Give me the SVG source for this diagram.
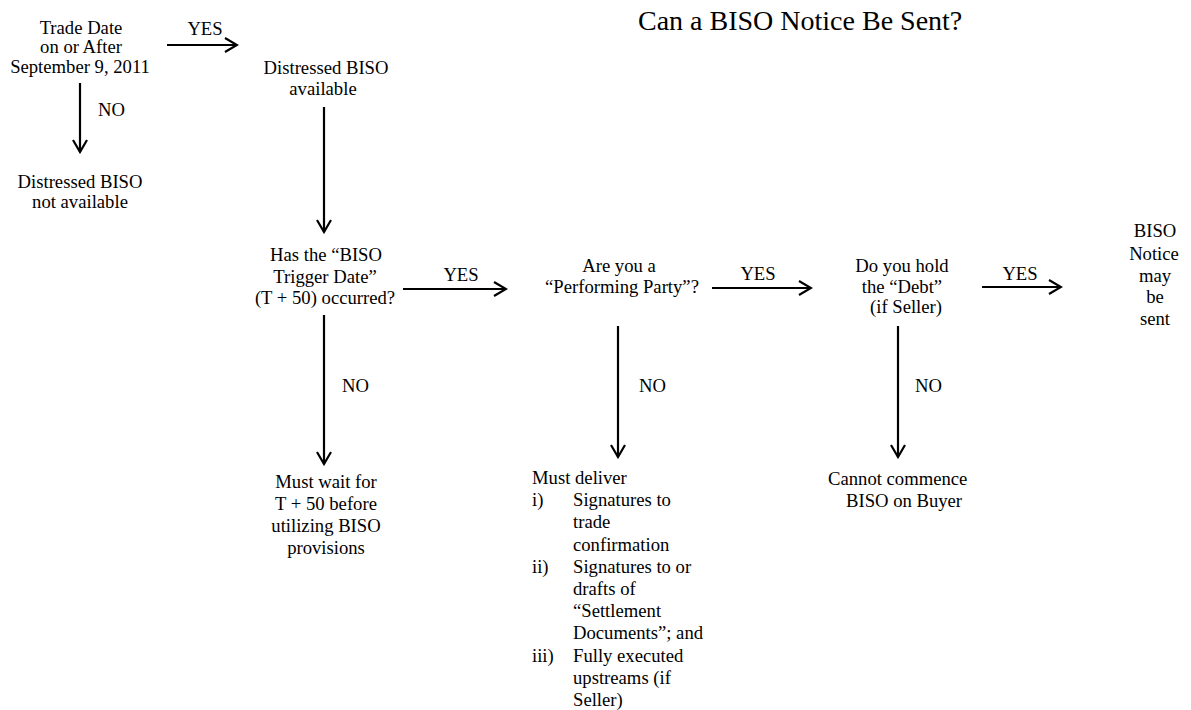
<svg xmlns="http://www.w3.org/2000/svg" width="1191" height="710" viewBox="0 0 1191 710">
<style>
text{font-family:"Liberation Serif","Times New Roman",serif;font-size:18.67px;fill:#000}
.c{text-anchor:middle}
.title{font-size:28px}
.ln{stroke:#000;stroke-width:2.2;fill:none}
</style>
<defs>
<marker id="arr" viewBox="-15 -9 17 18" markerWidth="17" markerHeight="18" refX="0" refY="0" orient="auto" markerUnits="userSpaceOnUse">
<path d="M-12,-7 L0,0 L-12,7" fill="none" stroke="#000" stroke-width="2.2"/>
</marker>
</defs>
<rect width="1191" height="710" fill="#fff"/>
<text class="title" x="638" y="30">Can a BISO Notice Be Sent?</text>
<g id="trade-date">
<text class="c" x="81" y="34">Trade Date</text>
<text class="c" x="81" y="53">on or After</text>
<text class="c" x="80" y="73">September 9, 2011</text>
</g>
<g id="not-available">
<text class="c" x="80" y="188">Distressed BISO</text>
<text class="c" x="80" y="208">not available</text>
</g>
<g id="available">
<text class="c" x="326" y="74">Distressed BISO</text>
<text class="c" x="323" y="95">available</text>
</g>
<g id="trigger">
<text class="c" x="326" y="261">Has the “BISO</text>
<text class="c" x="325" y="282.5">Trigger Date”</text>
<text class="c" x="325" y="304">(T + 50) occurred?</text>
</g>
<g id="wait">
<text class="c" x="326" y="488">Must wait for</text>
<text class="c" x="326" y="510">T + 50 before</text>
<text class="c" x="326" y="532">utilizing BISO</text>
<text class="c" x="326" y="554">provisions</text>
</g>
<g id="performing">
<text class="c" x="619" y="272">Are you a</text>
<text class="c" x="622" y="293">“Performing Party”?</text>
</g>
<g id="deliver">
<text x="532" y="484">Must deliver</text>
<text x="532" y="506">i)</text>
<text x="573" y="506">Signatures to</text>
<text x="573" y="528">trade</text>
<text x="573" y="551">confirmation</text>
<text x="532" y="573">ii)</text>
<text x="573" y="573">Signatures to or</text>
<text x="573" y="595">drafts of</text>
<text x="573" y="617">“Settlement</text>
<text x="573" y="639">Documents”; and</text>
<text x="532" y="662">iii)</text>
<text x="573" y="662">Fully executed</text>
<text x="573" y="684">upstreams (if</text>
<text x="573" y="706">Seller)</text>
</g>
<g id="debt">
<text class="c" x="902" y="272">Do you hold</text>
<text class="c" x="902" y="293">the “Debt”</text>
<text class="c" x="906" y="313">(if Seller)</text>
</g>
<g id="cannot">
<text x="828" y="485">Cannot commence</text>
<text x="846" y="507">BISO on Buyer</text>
</g>
<g id="notice">
<text class="c" x="1155" y="237">BISO</text>
<text class="c" x="1154" y="260">Notice</text>
<text class="c" x="1155" y="282">may</text>
<text class="c" x="1155" y="303">be</text>
<text class="c" x="1155" y="325">sent</text>
</g>
<g id="connectors">
<line class="ln" x1="167" y1="45" x2="237" y2="45" marker-end="url(#arr)"/>
<text class="c" x="205" y="35">YES</text>
<line class="ln" x1="80" y1="83" x2="80" y2="152" marker-end="url(#arr)"/>
<text x="98" y="116">NO</text>
<line class="ln" x1="324" y1="107" x2="324" y2="232" marker-end="url(#arr)"/>
<line class="ln" x1="403" y1="289" x2="506" y2="289" marker-end="url(#arr)"/>
<text class="c" x="461" y="281">YES</text>
<line class="ln" x1="324" y1="315" x2="324" y2="464" marker-end="url(#arr)"/>
<text x="342" y="392">NO</text>
<line class="ln" x1="712" y1="288" x2="811" y2="288" marker-end="url(#arr)"/>
<text class="c" x="758" y="280">YES</text>
<line class="ln" x1="618" y1="326" x2="618" y2="457" marker-end="url(#arr)"/>
<text x="639" y="392">NO</text>
<line class="ln" x1="982" y1="287" x2="1061" y2="287" marker-end="url(#arr)"/>
<text class="c" x="1020" y="280">YES</text>
<line class="ln" x1="898" y1="326" x2="898" y2="457" marker-end="url(#arr)"/>
<text x="915" y="392">NO</text>
</g>
</svg>
